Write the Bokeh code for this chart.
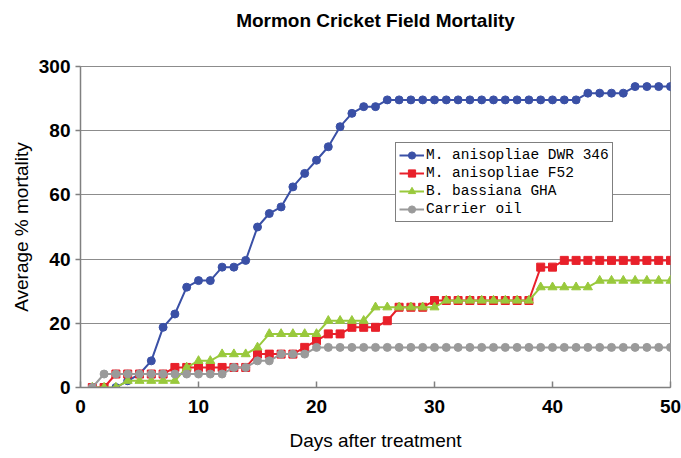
from bokeh.plotting import figure
from bokeh.models import Range1d, FixedTicker, Legend, LegendItem, Title
from bokeh.embed import file_html
from bokeh.resources import INLINE

title_text = "Mormon Cricket Field Mortality"
x_label = "Days after treatment"
y_label = "Average % mortality"

days_all = list(range(1, 51))
days_blue = list(range(3, 51))

dwr346 = [0, 2.1, 4.2, 8.3, 18.75, 22.9, 31.25, 33.3, 33.3, 37.5, 37.5, 39.6, 50, 54.2,
          56.25, 62.5, 66.7, 70.8, 75, 81.25, 85.4, 87.5, 87.5] + [89.6] * 17 + [91.7] * 4 + [93.75] * 4
f52 = [0, 0, 4.2, 4.2, 4.2, 4.2, 4.2] + [6.25] * 7 + [10.4] * 4 + [12.5, 14.6, 16.7, 16.7, 18.75, 18.75, 18.75, 20.8] \
      + [25] * 3 + [27.1] * 9 + [37.5] * 2 + [39.6] * 10
gha = [0] * 3 + [2.1] * 5 + [6.25, 8.3, 8.3] + [10.4] * 3 + [12.5] + [16.7] * 5 + [20.8] * 4 + [25] * 6 \
      + [27.1] * 8 + [31.25] * 5 + [33.3] * 7
carrier = [0] + [4.2] * 11 + [6.25] * 2 + [8.3] * 2 + [10.4] * 3 + [12.5] * 31

series_names = ["M. anisopliae DWR 346", "M. anisopliae F52", "B. bassiana GHA", "Carrier oil"]
x_ticks = [0, 10, 20, 30, 40, 50]
y_ticks = [0, 20, 40, 60, 80, 100]
y_tick_labels = {100: "300"}

p = figure(width=681, height=458, output_backend="svg", toolbar_location=None,
           x_range=Range1d(0, 50), y_range=Range1d(0, 100),
           min_border_left=80, min_border_right=11, min_border_top=66, min_border_bottom=71)

p.title.text = title_text
p.title.align = "center"
p.title.vertical_align = "top"
p.title.text_font = "Liberation Sans"
p.title.text_font_style = "bold"
p.title.text_font_size = "19px"
p.title.text_color = "black"
p.title.standoff = 18

spacer = Title(text=" ", text_font_size="1px", standoff=22)
p.add_layout(spacer, "above")

p.outline_line_color = "#8c8c8c"
p.outline_line_width = 1
p.xgrid.visible = False
p.ygrid.ticker = FixedTicker(ticks=y_ticks)
p.ygrid.grid_line_color = "#8c8c8c"
p.ygrid.grid_line_width = 1

for ax in (p.xaxis[0], p.yaxis[0]):
    ax.axis_line_color = "#808080"
    ax.axis_line_width = 1.5
    ax.major_tick_line_color = "#808080"
    ax.major_tick_line_width = 1.5
    ax.minor_tick_line_color = None
    ax.major_label_text_font = "Liberation Sans"
    ax.major_label_text_font_style = "bold"
    ax.major_label_text_font_size = "19px"
    ax.major_label_text_color = "black"
    ax.axis_label_text_font = "Liberation Sans"
    ax.axis_label_text_font_style = "normal"
    ax.axis_label_text_font_size = "19px"
    ax.axis_label_text_color = "black"

p.xaxis.ticker = FixedTicker(ticks=x_ticks)
p.xaxis.major_tick_in = 6
p.xaxis.major_tick_out = 0
p.xaxis.major_label_standoff = 12
p.xaxis.axis_label = x_label
p.xaxis.axis_label_standoff = 14

p.yaxis.ticker = FixedTicker(ticks=y_ticks)
p.yaxis.major_label_overrides = y_tick_labels
p.yaxis.major_tick_in = 0
p.yaxis.major_tick_out = 5
p.yaxis.major_label_standoff = 5
p.yaxis.axis_label = y_label
p.yaxis.axis_label_standoff = 4

colors = ["#3a50a6", "#e8202a", "#99c93c", "#9a9a9a"]
items = []

l1 = p.line(days_blue, dwr346, line_color=colors[0], line_width=2)
m1 = p.scatter(days_blue, dwr346, marker="circle", size=8, fill_color=colors[0], line_color=colors[0])
items.append(LegendItem(label=series_names[0], renderers=[l1, m1]))

l2 = p.line(days_all, f52, line_color=colors[1], line_width=2)
m2 = p.scatter(days_all, f52, marker="square", size=8, fill_color=colors[1], line_color=colors[1])
items.append(LegendItem(label=series_names[1], renderers=[l2, m2]))

l3 = p.line(days_all, gha, line_color=colors[2], line_width=2)
m3 = p.scatter(days_all, gha, marker="triangle", size=9, fill_color=colors[2], line_color=colors[2])
items.append(LegendItem(label=series_names[2], renderers=[l3, m3]))

l4 = p.line(days_all, carrier, line_color=colors[3], line_width=2)
m4 = p.scatter(days_all, carrier, marker="circle", size=8, fill_color=colors[3], line_color=colors[3])
items.append(LegendItem(label=series_names[3], renderers=[l4, m4]))

legend = Legend(items=items, location=(315, 165))
legend.label_text_font = "Liberation Mono"
legend.label_text_font_size = "14.5px"
legend.label_text_color = "black"
legend.glyph_width = 25
legend.glyph_height = 18
legend.label_height = 18
legend.label_standoff = 2
legend.spacing = 0
legend.padding = 3
legend.margin = 0
legend.border_line_color = "black"
legend.border_line_width = 1
legend.background_fill_color = "white"
legend.background_fill_alpha = 1
p.add_layout(legend, "center")

open("out.html", "w").write(file_html(p, INLINE))
